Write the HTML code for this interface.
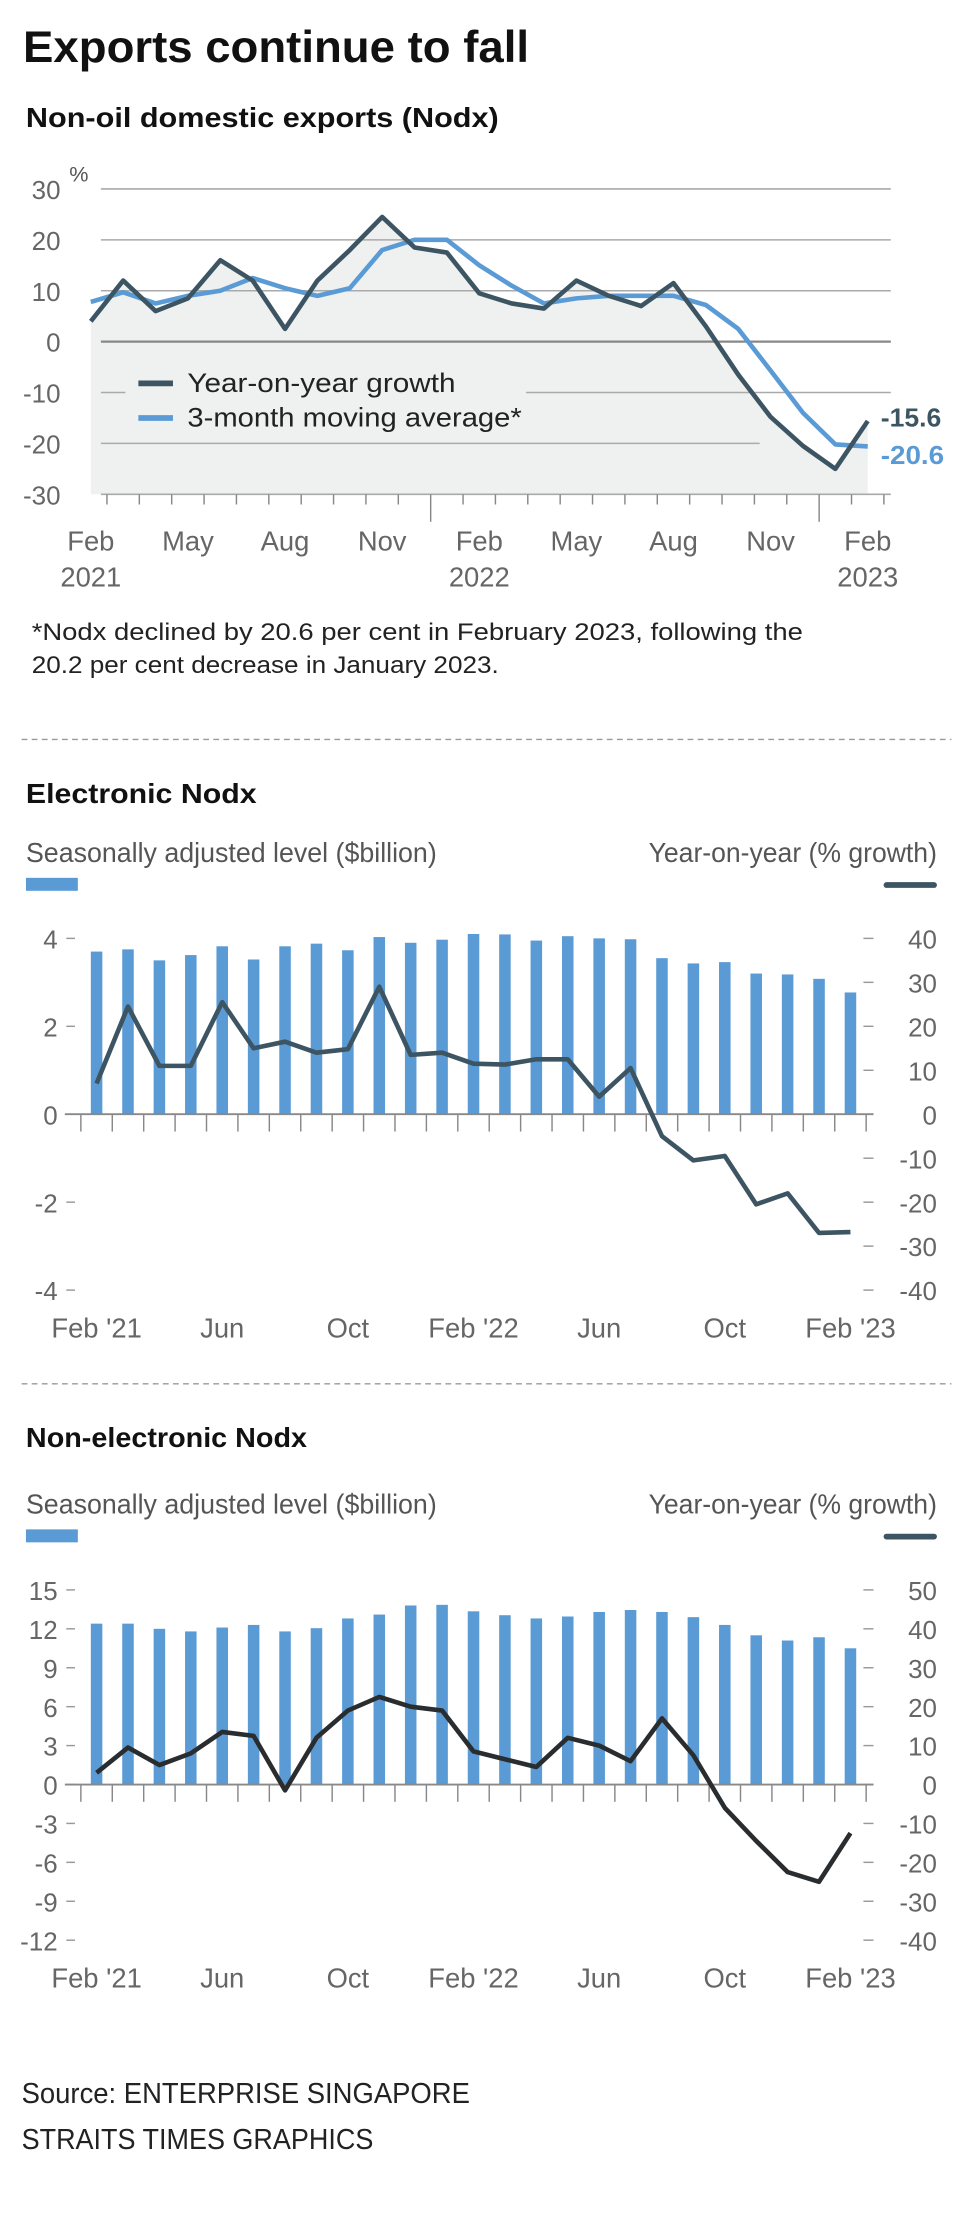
<!DOCTYPE html>
<html><head><meta charset="utf-8">
<style>
html,body{margin:0;padding:0;background:#fff;}
svg{display:block;}
text{font-family:"Liberation Sans Narrow","Liberation Sans",sans-serif;}
</style></head>
<body>
<svg id="main" width="960" height="2240" viewBox="0 0 666 1554" xmlns="http://www.w3.org/2000/svg">
<text x="16" y="43" font-size="31" font-weight="bold" fill="#111" textLength="351" lengthAdjust="spacingAndGlyphs">Exports continue to fall</text>
<text x="18" y="88" font-size="19" font-weight="bold" fill="#111" textLength="328" lengthAdjust="spacingAndGlyphs">Non-oil domestic exports (Nodx)</text>
<g id="c1"></g>
<text x="22" y="444" font-size="16.5" fill="#222" textLength="535" lengthAdjust="spacingAndGlyphs">*Nodx declined by 20.6 per cent in February 2023, following the</text>
<text x="22" y="467" font-size="16.5" fill="#222" textLength="324" lengthAdjust="spacingAndGlyphs">20.2 per cent decrease in January 2023.</text>
<line x1="15" y1="513" x2="660" y2="513" stroke="#999" stroke-dasharray="4,3"/>
<text x="18" y="557" font-size="19" font-weight="bold" fill="#111" textLength="160" lengthAdjust="spacingAndGlyphs">Electronic Nodx</text>
<g id="c2"></g>
<line x1="15" y1="960" x2="660" y2="960" stroke="#999" stroke-dasharray="4,3"/>
<text x="18" y="1004" font-size="19" font-weight="bold" fill="#111" textLength="195" lengthAdjust="spacingAndGlyphs">Non-electronic Nodx</text>
<g id="c3"></g>
<text x="15" y="1459" font-size="20" fill="#222" textLength="311" lengthAdjust="spacingAndGlyphs">Source: ENTERPRISE SINGAPORE</text>
<text x="15" y="1491" font-size="20" fill="#222" textLength="244" lengthAdjust="spacingAndGlyphs">STRAITS TIMES GRAPHICS</text>
</svg>
<script>
// Chart 1 data
const c1Yoy = [4,12,6,8.5,16,12,2.5,12,18,24.5,18.5,17.5,9.5,7.5,6.5,12,9,7,11.5,3,-6.5,-14.8,-20.5,-25,-15.6];
const c1Ma = [7.8,9.7,7.5,9,10,12.5,10.5,9,10.5,18,20,20,15,11,7.5,8.5,9,9,9,7.2,2.5,-5.7,-14,-20.2,-20.6];
const c1Ticks = [30,20,10,0,-10,-20,-30];
const c1XLabels = [["Feb","2021",0],["May","",3],["Aug","",6],["Nov","",9],["Feb","2022",12],["May","",15],["Aug","",18],["Nov","",21],["Feb","2023",24]];
// Chart 2 data
const c2Bars = [3.7,3.75,3.5,3.62,3.82,3.52,3.82,3.88,3.73,4.03,3.9,3.97,4.1,4.09,3.95,4.05,4.0,3.98,3.55,3.43,3.46,3.2,3.18,3.08,2.77];
const c2Yoy = [7,24.5,11,11,25.5,15,16.5,14,14.8,29,13.5,14,11.5,11.3,12.5,12.5,4,10.5,-5,-10.5,-9.5,-20.5,-18,-27,-26.8];
const c2LeftTicks = [4,2,0,-2,-4];
const c2RightTicks = [40,30,20,10,0,-10,-20,-30,-40];
// Chart 3 data
const c3Bars = [12.4,12.4,12,11.8,12.1,12.3,11.8,12.05,12.8,13.1,13.8,13.85,13.35,13.05,12.8,12.95,13.3,13.45,13.3,12.9,12.3,11.5,11.1,11.35,10.5];
const c3Yoy = [3,9.5,5,8,13.5,12.5,-1.5,12,19,22.5,20,19,8.5,6.5,4.5,12,10,6,17,7.5,-6,-14.5,-22.5,-25,-12.5];
const c3LeftTicks = [15,12,9,6,3,0,-3,-6,-9,-12];
const c3RightTicks = [50,40,30,20,10,0,-10,-20,-30,-40];
const barXLabels = [["Feb '21",0],["Jun",4],["Oct",8],["Feb '22",12],["Jun",16],["Oct",20],["Feb '23",24]];

const NS="http://www.w3.org/2000/svg";
function mk(parent,tag,attrs,txt){const e=document.createElementNS(NS,tag);for(const k in attrs)e.setAttribute(k,attrs[k]);if(txt!==undefined)e.textContent=txt;parent.appendChild(e);return e;}

// ---- Chart 1 ----
(function(){
 const g=document.getElementById('c1');
 const x=i=>63+i*(602-63)/24;
 const y=v=>237-v*3.53;
 let area="M"+x(0)+","+y(-30);
 c1Yoy.forEach((v,i)=>area+=" L"+x(i)+","+y(v));
 area+=" L"+x(24)+","+y(-30)+" Z";
 const a=mk(g,'path',{d:area,fill:'#eff0f0'});
 
 
 c1Ticks.forEach(t=>{
  let segs=[[70,618]];
  if(t===-10) segs=[[70,87],[365,618]];
  if(t===-20) segs=[[70,527]];
  segs.forEach(s=>{
   const l=mk(g,'line',{x1:s[0],x2:s[1],y1:y(t),y2:y(t),stroke:t===0?'#888':'#aaa','stroke-width':t===0?1.6:1.1});
   
   
  });
  const tx=mk(g,'text',{x:42,y:y(t)+7,'font-size':18,fill:'#666','text-anchor':'end'},String(t));
  
  
 });
 const pc=mk(g,'text',{x:48,y:126,'font-size':15,fill:'#555'},'%');
 
 
 for(let i=-1;i<=25;i++){
  const xx=x(i)+11.2; if(xx<70||xx>620) continue;
  const big=(i===10||i===22);
  const t=mk(g,'line',{x1:xx,x2:xx,y1:343,y2:big?362:350,stroke:'#888','stroke-width':1});
  
  
 }
 c1XLabels.forEach(L=>{
  const t=mk(g,'text',{x:x(L[2]),y:382,'font-size':19,fill:'#666','text-anchor':'middle'},L[0]);
  
  
  if(L[1]){const t2=mk(g,'text',{x:x(L[2]),y:407,'font-size':19,fill:'#666','text-anchor':'middle'},L[1]);
  
  }
 });
 const ln=(arr,col,name)=>{const p=mk(g,'polyline',{points:arr.map((v,i)=>x(i)+","+y(v)).join(" "),fill:'none',stroke:col,'stroke-width':3.2,'stroke-linejoin':'round'});
  
  };
 ln(c1Ma,'#5b9bd5','ma-line');
 ln(c1Yoy,'#3d5563','yoy-line');
 const l1=mk(g,'line',{x1:96,x2:120,y1:266,y2:266,stroke:'#3d5563','stroke-width':4});
 
 
 const t1=mk(g,'text',{x:130,y:272,'font-size':18.5,fill:'#222',textLength:186,lengthAdjust:'spacingAndGlyphs'},'Year-on-year growth');
 
 
 const l2=mk(g,'line',{x1:96,x2:120,y1:290,y2:290,stroke:'#5b9bd5','stroke-width':4});
 
 
 const t2=mk(g,'text',{x:130,y:296,'font-size':18.5,fill:'#222',textLength:232,lengthAdjust:'spacingAndGlyphs'},'3-month moving average*');
 
 
 const v1=mk(g,'text',{x:611,y:296,'font-size':18,'font-weight':'bold',fill:'#3d5563',textLength:42,lengthAdjust:'spacingAndGlyphs'},String(c1Yoy[24]));
 
 
 const v2=mk(g,'text',{x:611,y:322,'font-size':18,'font-weight':'bold',fill:'#5b9bd5',textLength:44,lengthAdjust:'spacingAndGlyphs'},String(c1Ma[24]));
 
 
})();

// ---- bar + line charts ----
function barChart(gid,top,bars,yoy,lt,rt,lineCol){
 const g=document.getElementById(gid);
 const x=i=>67+i*(590-67)/24;
 const topY=top, botY=top+(lt.length-1)*(gid==='c2'?61:27);
 const yl=v=>topY+(lt[0]-v)*(botY-topY)/(lt[0]-lt[lt.length-1]);
 const yr=v=>topY+(rt[0]-v)*(botY-topY)/(rt[0]-rt[rt.length-1]);
 const s1=mk(g,'text',{x:18,y:top-53,'font-size':19,fill:'#555',textLength:285,lengthAdjust:'spacingAndGlyphs'},'Seasonally adjusted level ($billion)');
 
 
 const r1=mk(g,'rect',{x:18,y:top-42,width:36,height:9,fill:'#5b9bd5'});
 
 
 const s2=mk(g,'text',{x:450,y:top-53,'font-size':19,fill:'#555',textLength:200,lengthAdjust:'spacingAndGlyphs'},'Year-on-year (% growth)');
 
 
 const r2=mk(g,'line',{x1:615,x2:648,y1:top-37,y2:top-37,stroke:'#3d5563','stroke-width':4,'stroke-linecap':'round'});
 
 
 lt.forEach(t=>{
  const tx=mk(g,'text',{x:40,y:yl(t)+7,'font-size':18,fill:'#666','text-anchor':'end'},String(t));
  
  
  const d=mk(g,'line',{x1:46,x2:52,y1:yl(t),y2:yl(t),stroke:'#999'});
  
  
 });
 rt.forEach(t=>{
  const tx=mk(g,'text',{x:650,y:yr(t)+7,'font-size':18,fill:'#666','text-anchor':'end'},String(t));
  
  
  const d=mk(g,'line',{x1:599,x2:606,y1:yr(t),y2:yr(t),stroke:'#999'});
  
  
 });
 bars.forEach((v,i)=>{
  const r=mk(g,'rect',{x:x(i)-4,y:yl(v),width:8,height:yl(0)-yl(v),fill:'#5b9bd5'});
  
  
 });
 const base=mk(g,'line',{x1:45,x2:606,y1:yl(0),y2:yl(0),stroke:'#888','stroke-width':1.3});
 
 
 for(let i=0;i<=25;i++){
  const xx=x(i)-10.9;
  const t=mk(g,'line',{x1:xx,x2:xx,y1:yl(0),y2:yl(0)+12,stroke:'#888'});
  
  
 }
 const p=mk(g,'polyline',{points:yoy.map((v,i)=>x(i)+","+yr(v)).join(" "),fill:'none',stroke:lineCol,'stroke-width':3.2,'stroke-linejoin':'round'});
 
 
 barXLabels.forEach(L=>{
  const t=mk(g,'text',{x:x(L[1]),y:botY+33,'font-size':19,fill:'#666','text-anchor':'middle'},L[0]);
  
  
 });
}
barChart('c2',651,c2Bars,c2Yoy,c2LeftTicks,c2RightTicks,'#3d5563');
barChart('c3',1103,c3Bars,c3Yoy,c3LeftTicks,c3RightTicks,'#2a2d30');
</script>
</body></html>
